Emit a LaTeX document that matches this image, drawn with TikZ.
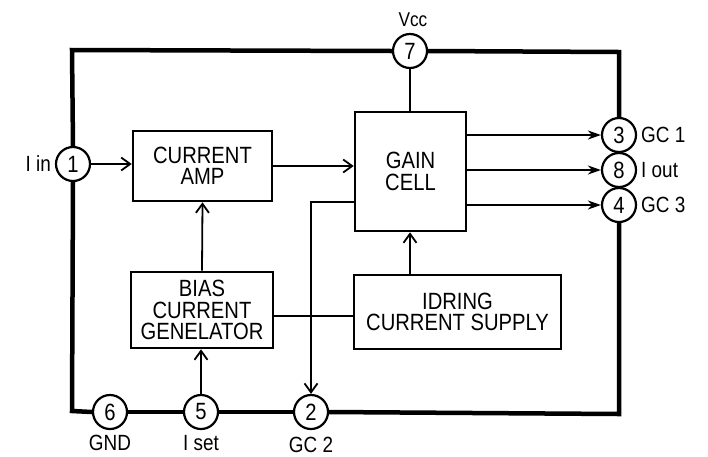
\documentclass[tikz,border=0pt]{standalone}
\usepackage{fontspec}
\setmainfont[FakeStretch=0.86]{Liberation Sans}
\usetikzlibrary{arrows.meta}
\begin{document}
\begin{tikzpicture}[x=1pt,y=-1pt,
  blk/.style={draw,line width=2.6pt,inner sep=0pt,align=center,font=\fontsize{23.5}{21.5}\selectfont},
  pin/.style={draw,circle,line width=2.2pt,fill=white,minimum size=34pt,inner sep=0pt,font=\fontsize{23.5}{22}\selectfont},
  lab/.style={font=\fontsize{22}{22}\selectfont,inner sep=0pt},
  frame/.style={line width=4.5pt,line join=miter},
  wire/.style={line width=1.8pt},
  arr/.style={wire,-{Straight Barb[length=9pt,width=13pt,line width=1.8pt]}},
  oarr/.style={wire,-{Stealth[length=13pt,width=9pt,inset=4pt]}}
]
\useasboundingbox (0,0) rectangle (708,456);
% corners of the outer frame
\coordinate (tl) at (72,50);
\coordinate (tr) at (619,52);
\coordinate (br) at (619,414);
\coordinate (bl) at (72,411);
% pins
\node[pin] (p7) at (410,51) {7};
\node[pin] (p1) at (73,164) {1};
\node[pin] (p3) at (619,135) {3};
\node[pin] (p8) at (619,170) {8};
\node[pin] (p4) at (619,205) {4};
\node[pin] (p6) at (110,412) {6};
\node[pin] (p5) at (201,412) {5};
\node[pin] (p2) at (311,412) {2};
% frame
\draw[frame] (p1.north) -- (tl) -- (p7.west);
\draw[frame] (p7.east) -- (tr) -- (p3.north);
\draw[frame] (p4.south) -- (br) -- (p2.east);
\draw[frame] (p2.west) -- (p5.east);
\draw[frame] (p5.west) -- (p6.east);
\draw[frame] (p6.west) -- (bl) -- (p1.south);
% blocks
\node[blk,minimum width=139pt,minimum height=70pt] (amp) at (202.5,166) {CURRENT\\AMP};
\node[blk,minimum width=111pt,minimum height=119pt] (gain) at (410.5,171.5) {GAIN\\CELL};
\node[blk,minimum width=142pt,minimum height=76pt] (bias) at (202,310) {BIAS\\CURRENT\\GENELATOR};
\node[blk,minimum width=207pt,minimum height=74pt] (idr) at (457.5,312) {IDRING\\CURRENT SUPPLY};
% labels
\node[lab,font=\fontsize{20}{20}\selectfont] (lvcc) at (413,20) {Vcc};
\node[lab,anchor=east] (lin) at (51,164) {I in};
\node[lab,anchor=west] (lgc1) at (641,135) {GC 1};
\node[lab,anchor=west] (lout) at (641,170) {I out};
\node[lab,anchor=west] (lgc3) at (641,205) {GC 3};
\node[lab] (lgnd) at (110,443) {GND};
\node[lab] (lset) at (201,443) {I set};
\node[lab] (lgc2) at (311,445) {GC 2};
% connectors
\draw[arr] (p1.east) -- (amp.west |- p1.east);
\draw[arr] (amp.east) -- (gain.west |- amp.east);
\draw[wire] (p7.south) -- (p7 |- gain.north);
\draw[oarr] (gain.east |- p3) -- (p3.west);
\draw[oarr] (gain.east |- p8) -- (p8.west);
\draw[oarr] (gain.east |- p4) -- (p4.west);
\coordinate (c2) at (311,202);
\draw[arr] (gain.west |- c2) -- (c2) -- (p2.north);
\draw[arr] (bias.north) -- (amp.south);
\coordinate (c3) at (410,275);
\draw[arr] (idr.north -| c3) -- (gain.south -| c3);
\coordinate (c4) at (273,316);
\draw[wire] (bias.east |- c4) -- (idr.west |- c4);
\draw[arr] (p5.north) -- (bias.south -| p5);
\end{tikzpicture}
\end{document}
